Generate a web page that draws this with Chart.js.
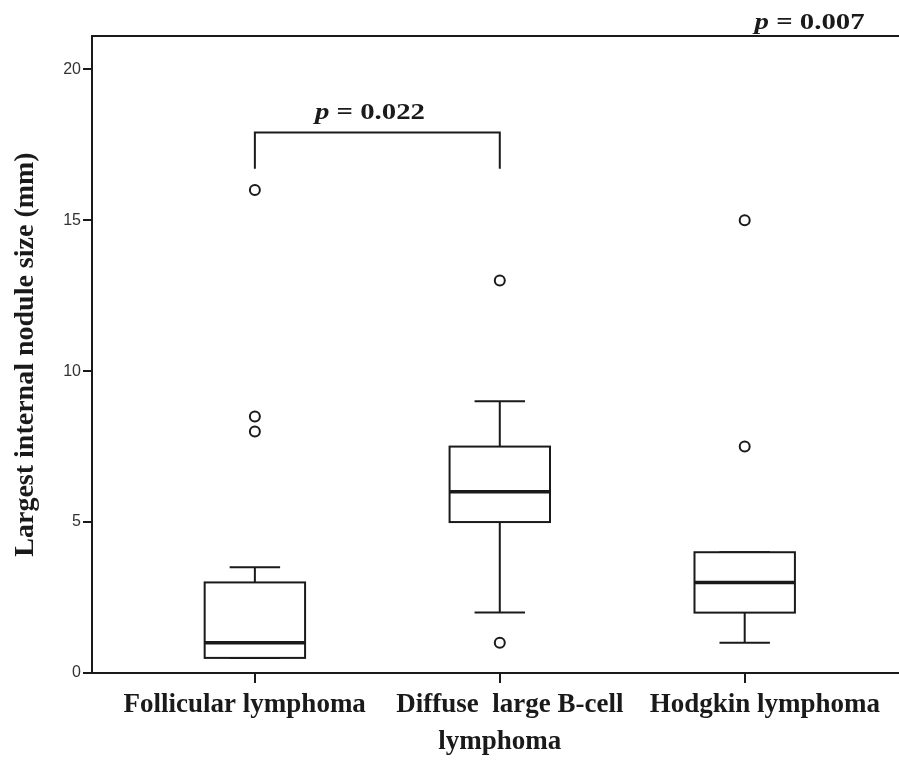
<!DOCTYPE html>
<html>
<head>
<meta charset="utf-8">
<script src="https://cdn.jsdelivr.net/npm/chart.js@4.4.1/dist/chart.umd.min.js"></script>
<style>
  html, body { margin: 0; padding: 0; background: #fff; }
  #wrap { width: 899px; height: 760px; }
</style>
</head>
<body>
<div id="wrap"><canvas id="boxChart" width="899" height="760"></canvas></div>
<script>
// groups on the x axis (spaces nudge the labels as in the original)
const categories = ['Follicular lymphoma   ', ['   Diffuse  large B-cell', 'lymphoma'], '      Hodgkin lymphoma'];
// box plot summaries per group (mm)
const whiskerLow = [0.5, 2, 1];
const q1 = [0.5, 5, 2];
const median = [1, 6, 3];
const q3 = [3, 7.5, 4];
const whiskerHigh = [3.5, 9, 4];
const outliers = [[16, 8.5, 8], [13, 1], [15, 7.5]];
const yTicks = [0, 5, 10, 15, 20];

const ink = '#1a1a1a';
const serif = '"Liberation Serif", "Times New Roman", serif';

const outlierPoints = [];
outliers.forEach((list, i) => list.forEach(v => outlierPoints.push({ x: i + 1, y: v })));

// significance bracket between group 1 and 2
const bracket = [{ x: 1, y: 16.7 }, { x: 1, y: 17.9 }, { x: 2, y: 17.9 }, { x: 2, y: 16.7 }];
const pLabels = [
  { value: '0.022', x: 1.47, y: 18.35 },
  { value: '0.007', x: 3.265, y: 21.32 }
];

const boxPlugin = {
  id: 'boxes',
  beforeDatasetsDraw(chart) {
    const { ctx, scales: { x, y }, chartArea } = chart;
    ctx.save();
    // top frame line
    ctx.strokeStyle = ink;
    ctx.lineWidth = 2;
    ctx.beginPath();
    ctx.moveTo(chartArea.left, chartArea.top);
    ctx.lineTo(chartArea.right, chartArea.top);
    ctx.stroke();

    const half = 0.205, cap = 0.103;
    categories.forEach((c, i) => {
      const cx = x.getPixelForValue(i + 1);
      const bw = x.getPixelForValue(i + 1 + half) - cx;
      const cw = x.getPixelForValue(i + 1 + cap) - cx;
      const yLo = y.getPixelForValue(whiskerLow[i]);
      const yQ1 = y.getPixelForValue(q1[i]);
      const yMed = y.getPixelForValue(median[i]);
      const yQ3 = y.getPixelForValue(q3[i]);
      const yHi = y.getPixelForValue(whiskerHigh[i]);
      ctx.strokeStyle = ink;
      ctx.lineWidth = 2;
      // whiskers
      ctx.beginPath();
      ctx.moveTo(cx, yQ3); ctx.lineTo(cx, yHi);
      ctx.moveTo(cx - cw, yHi); ctx.lineTo(cx + cw, yHi);
      ctx.moveTo(cx, yQ1); ctx.lineTo(cx, yLo);
      ctx.moveTo(cx - cw, yLo); ctx.lineTo(cx + cw, yLo);
      ctx.stroke();
      // box
      ctx.fillStyle = '#fff';
      ctx.fillRect(cx - bw, yQ3, bw * 2, yQ1 - yQ3);
      ctx.strokeRect(cx - bw, yQ3, bw * 2, yQ1 - yQ3);
      // median
      ctx.lineWidth = 3.5;
      ctx.beginPath();
      ctx.moveTo(cx - bw, yMed); ctx.lineTo(cx + bw, yMed);
      ctx.stroke();
    });
    ctx.restore();
  },
  afterDatasetsDraw(chart) {
    const { ctx, scales: { x, y } } = chart;
    const stretch = 1.2;
    ctx.save();
    ctx.fillStyle = ink;
    ctx.textBaseline = 'alphabetic';
    pLabels.forEach(p => {
      const px = x.getPixelForValue(p.x);
      const py = y.getPixelForValue(p.y);
      const fItal = 'italic bold 24px ' + serif;
      const fBold = 'bold 24px ' + serif;
      const rest = ' = ' + p.value;
      ctx.font = fItal;
      const w1 = ctx.measureText('p').width;
      ctx.font = fBold;
      const w2 = ctx.measureText(rest).width;
      ctx.save();
      ctx.translate(px - (w1 + w2) * stretch / 2, py);
      ctx.scale(stretch, 1);
      ctx.font = fItal;
      ctx.fillText('p', 0, 0);
      ctx.font = fBold;
      ctx.fillText(rest, w1, 0);
      ctx.restore();
    });
    ctx.restore();
  }
};

new Chart(document.getElementById('boxChart'), {
  type: 'scatter',
  data: {
    datasets: [
      {
        label: 'Outliers',
        data: outlierPoints,
        pointStyle: 'circle',
        pointRadius: 5,
        pointBorderWidth: 2,
        pointBackgroundColor: '#fff',
        pointBorderColor: ink
      },
      {
        type: 'line',
        label: 'Bracket',
        data: bracket,
        showLine: true,
        borderColor: ink,
        borderWidth: 2,
        pointRadius: 0,
        fill: false
      }
    ]
  },
  options: {
    responsive: false,
    animation: false,
    layout: { autoPadding: false, padding: { top: 36, right: 0, left: 0, bottom: 0 } },
    plugins: { legend: { display: false }, tooltip: { enabled: false } },
    scales: {
      x: {
        type: 'linear',
        min: 0.335,
        max: 3.63,
        afterBuildTicks: s => { s.ticks = [1, 2, 3].map(v => ({ value: v })); },
        afterFit: s => { s.height = 87; },
        border: { color: ink, width: 2 },
        grid: { drawOnChartArea: false, drawTicks: true, tickLength: 10, tickColor: ink, lineWidth: 2 },
        ticks: {
          callback: v => categories[v - 1],
          color: ink,
          padding: 3,
          maxRotation: 0,
          autoSkip: false,
          font: { family: serif, size: 27, weight: 'bold', lineHeight: 1.38 }
        }
      },
      y: {
        min: 0,
        max: 21.1,
        afterBuildTicks: s => { s.ticks = yTicks.map(v => ({ value: v })); },
        afterFit: s => { s.width = 92; },
        border: { color: ink, width: 2 },
        grid: { drawOnChartArea: false, drawTicks: true, tickLength: 9, tickColor: ink, lineWidth: 2 },
        ticks: {
          color: '#333',
          padding: 2,
          font: { family: 'Liberation Sans, Arial, sans-serif', size: 16 }
        },
        title: {
          display: true,
          text: 'Largest internal nodule size (mm)',
          color: ink,
          padding: { top: 9, bottom: 0 },
          font: { family: serif, size: 28, weight: 'bold' }
        }
      }
    }
  },
  plugins: [boxPlugin]
});
</script>
</body>
</html>
